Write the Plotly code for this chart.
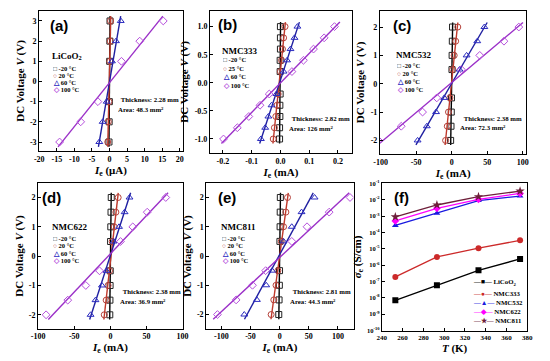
import numpy as np
import plotly.graph_objects as go

# ---------------- data ----------------
temps_lbl = ["-20 °C", "20 °C", "60 °C", "100 °C"]
temps_lbl_b = ["-20 °C", "25 °C", "60 °C", "100 °C"]

# (a) LiCoO2, current in uA
V_a = [-3, -2, -1, 1, 2, 3]
a_m20 = [-0.15, -0.1, -0.05, 0.05, 0.1, 0.15]
a_20 = [-0.5, -0.35, -0.15, 0.1, 0.2, 0.3]
a_60 = [-2.9, -1.95, -0.8, 0.7, 1.85, 3.2]
a_100 = [-14.2, -8.2, -3.3, 3.4, 8.6, 15.3]

# (b) NMC333, current in mA
V_b = [-1.0, -0.8, -0.6, -0.4, -0.2, 0.2, 0.4, 0.6, 0.8, 1.0]
b_m20 = [-0.003, -0.003, -0.002, -0.002, -0.001, -0.001, -0.001, 0.0, 0.0, 0.0]
b_25 = [-0.025, -0.021, -0.016, -0.012, -0.008, 0.000, 0.004, 0.007, 0.011, 0.016]
b_60 = [-0.068, -0.053, -0.042, -0.031, -0.014, 0.011, 0.023, 0.035, 0.049, 0.059]
b_100 = [-0.198, -0.150, -0.110, -0.071, -0.039, 0.040, 0.080, 0.115, 0.152, 0.188]

# (c) NMC532, mA
V_c = [-2, -1.5, -1, -0.5, 0.5, 1, 1.5, 2]
c_m20 = [-1.5, -1.0, -0.6, -0.3, 0.4, 0.6, 0.9, 1.2]
c_20 = [-8.6, -6.2, -4.5, -2.6, 1.5, 3.5, 5.6, 8.6]
c_60 = [-48, -35, -22, -10.5, 11, 21, 36, 46]
c_100 = [-103, -71, -41, -21, 13.6, 39.5, 73.6, 94.5]

# (d) NMC622, mA
V_d = [-2, -1.5, -1, -0.5, 0.5, 1, 1.5, 2]
d_m20 = [-0.8, -0.6, -0.4, -0.2, 0.3, 0.6, 0.9, 1.2]
d_20 = [-8.5, -5.8, -3.2, -1.2, 2.5, 5.4, 7.6, 10.8]
d_60 = [-27.4, -20.6, -11.7, -5.5, 4.5, 12, 19.7, 26.5]
d_100 = [-89, -59, -34, -15, 14, 31, 51, 76.7]

# (e) NMC811, mA
V_e = [-2, -1.5, -1, -0.5, 0.5, 1, 1.5, 2]
e_m20 = [-1.5, -1.0, -0.5, -0.2, 0.5, 0.8, 1.0, 1.2]
e_20 = [-14.6, -10, -6.2, -3, 2.8, 6.7, 10.7, 13.5]
e_60 = [-60.7, -39, -23, -13, 6.7, 20.8, 37.6, 60]
e_100 = [-106.7, -74.7, -46.6, -24, 20.8, 47, 85, 120.8]

# (f) conductivity vs temperature
T_K = [253, 293, 333, 373]
sig_LiCoO2 = [7.1e-9, 5.9e-8, 4.8e-7, 2.4e-6]
sig_NMC333 = [1.9e-7, 3.2e-6, 1.1e-5, 3.3e-5]
sig_NMC532 = [2.7e-4, 1.5e-3, 8.9e-3, 1.7e-2]
sig_NMC622 = [5.1e-4, 3.0e-3, 1.07e-2, 2.45e-2]
sig_NMC811 = [9.1e-4, 4.8e-3, 1.55e-2, 3.4e-2]
f_names = ["LiCoO<sub>2</sub>", "NMC333", "NMC532", "NMC622", "NMC811"]

# tick labels
ticks_a_x = [-20, -15, -10, -5, 0, 5, 10, 15, 20]
ticks_a_y = [-3, -2, -1, 0, 1, 2, 3]
ticks_b_x = [-0.2, -0.1, 0.0, 0.1, 0.2]
ticklbl_b_x = ["-0.2", "-0.1", "0.0", "0.1", "0.2"]
ticks_b_y = [-1.0, -0.5, 0.0, 0.5, 1.0]
ticklbl_b_y = ["-1.0", "-0.5", "0.0", "0.5", "1.0"]
ticks_100_x = [-100, -50, 0, 50, 100]
ticks_2_y = [-2, -1, 0, 1, 2]
ticks_f_x = [240, 260, 280, 300, 320, 340, 360, 380]
ticks_f_y = [1e-10, 1e-9, 1e-8, 1e-7, 1e-6, 1e-5, 1e-4, 1e-3, 1e-2, 1e-1]
ticklbl_f_y = ["10<sup>-10</sup>", "10<sup>-9</sup>", "10<sup>-8</sup>", "10<sup>-7</sup>",
               "10<sup>-6</sup>", "10<sup>-5</sup>", "10<sup>-4</sup>", "10<sup>-3</sup>",
               "10<sup>-2</sup>", "10<sup>-1</sup>"]

# ---------------- styling ----------------
SERIF = "Liberation Serif"
SANS = "Liberation Sans"
LINE_C = ["#000000", "#c0392b", "#1f1fa0", "#9b30c8"]
MARK_C = ["#222222", "#b5413a", "#2b2bc0", "#b54fdc"]
SYMS = ["square-open", "circle-open", "triangle-up-open", "diamond-open"]
GLYPHS = ["□", "○", "△", "◇"]

F_COL = ["#000000", "#cc2a2a", "#1a1ae0", "#ff00ff", "#6e1f3a"]
F_SYM = ["square", "circle", "triangle-up", "diamond", "star"]
F_GLY = ["■", "●", "▲", "◆", "★"]

fig = go.Figure()

panels = [
    dict(lab="(a)", name="LiCoO<sub>2</sub>", V=V_a, I=[a_m20, a_20, a_60, a_100], tl=temps_lbl,
         xt=ticks_a_x, xtl=[str(v) for v in ticks_a_x], yt=ticks_a_y, ytl=[str(v) for v in ticks_a_y],
         xr=[-20, 20.8], yr=[-3.45, 3.5], dx=[0.060, 0.327], dy=[0.5845, 0.9806],
         xtitle="<i>I</i><sub>e</sub> (μA)", th="Thickness: 2.28 mm", ar="Area: 48.3 mm<sup>2</sup>",
         leg=(0.08, 0.68, [0.59, 0.54, 0.49, 0.44]), info=(0.985, 0.37, 0.30), labpos=(0.07, 0.9)),
    dict(lab="(b)", name="NMC333", V=V_b, I=[b_m20, b_25, b_60, b_100], tl=temps_lbl_b,
         xt=ticks_b_x, xtl=ticklbl_b_x, yt=ticks_b_y, ytl=ticklbl_b_y,
         xr=[-0.245, 0.248], yr=[-1.25, 1.28], dx=[0.378, 0.642], dy=[0.579, 0.9806],
         xtitle="<i>I</i><sub>e</sub> (mA)", th="Thickness: 2.82 mm", ar="Area: 126 mm<sup>2</sup>",
         leg=(0.075, 0.717, [0.655, 0.595, 0.535, 0.475]), info=(0.995, 0.24, 0.175), labpos=(0.05, 0.905)),
    dict(lab="(c)", name="NMC532", V=V_c, I=[c_m20, c_20, c_60, c_100], tl=temps_lbl,
         xt=ticks_100_x, xtl=[str(v) for v in ticks_100_x], yt=ticks_2_y, ytl=[str(v) for v in ticks_2_y],
         xr=[-101, 105], yr=[-2.48, 2.57], dx=[0.6945, 0.967], dy=[0.5762, 0.9806],
         xtitle="<i>I</i><sub>e</sub> (mA)", th="Thickness: 2.38 mm", ar="Area: 72.3 mm<sup>2</sup>",
         leg=(0.1, 0.692, [0.62, 0.562, 0.508, 0.452]), info=(0.975, 0.247, 0.182), labpos=(0.08, 0.9)),
    dict(lab="(d)", name="NMC622", V=V_d, I=[d_m20, d_20, d_60, d_100], tl=temps_lbl,
         xt=ticks_100_x, xtl=[str(v) for v in ticks_100_x], yt=ticks_2_y, ytl=[str(v) for v in ticks_2_y],
         xr=[-100, 100], yr=[-2.47, 2.48], dx=[0.058, 0.327], dy=[0.0831, 0.4931],
         xtitle="<i>I</i><sub>e</sub> (mA)", th="Thickness: 2.38 mm", ar="Area: 36.9 mm<sup>2</sup>",
         leg=(0.088, 0.703, [0.622, 0.57, 0.52, 0.47]), info=(0.995, 0.257, 0.19), labpos=(0.02, 0.905)),
    dict(lab="(e)", name="NMC811", V=V_e, I=[e_m20, e_20, e_60, e_100], tl=temps_lbl,
         xt=ticks_100_x, xtl=[str(v) for v in ticks_100_x], yt=ticks_2_y, ytl=[str(v) for v in ticks_2_y],
         xr=[-126, 127], yr=[-2.48, 2.48], dx=[0.371, 0.6455], dy=[0.0831, 0.4931],
         xtitle="<i>I</i><sub>e</sub> (mA)", th="Thickness: 2.81 mm", ar="Area: 44.3 mm<sup>2</sup>",
         leg=(0.093, 0.703, [0.622, 0.57, 0.52, 0.47]), info=(0.99, 0.257, 0.19), labpos=(0.07, 0.91)),
]

tickfont = dict(family=SERIF, size=8, color="black", weight="bold")
titlefont = dict(family=SERIF, size=11, color="black", weight="bold")


def axis_common():
    return dict(showline=True, linecolor="black", linewidth=1, mirror=True,
                ticks="inside", ticklen=3, tickwidth=1, tickcolor="black",
                showgrid=False, zeroline=False, tickfont=tickfont, fixedrange=True)


def px(dom, f):
    return dom[0] + f * (dom[1] - dom[0])


def note(text, x, y, size, w, family=SERIF, xanchor="left"):
    return dict(text=f"<b>{text}</b>", x=x, y=y, xref="paper", yref="paper",
                xanchor=xanchor, yanchor="middle", showarrow=False,
                width=w, height=round(size * 1.35), align=xanchor, valign="middle",
                borderpad=0, font=dict(family=family, size=size, color="black"))


annotations = []
layout_axes = {}
for k, p in enumerate(panels, start=1):
    xa = "x" if k == 1 else f"x{k}"
    ya = "y" if k == 1 else f"y{k}"
    Vv = np.array(p["V"], dtype=float)
    for s, I in enumerate(p["I"]):
        Iv = np.array(I, dtype=float)
        c = np.polyfit(Vv, Iv, 1)
        vl = np.array([Vv.min() * 1.08, Vv.max() * 1.08])
        fig.add_trace(go.Scatter(x=np.polyval(c, vl), y=vl, mode="lines", xaxis=xa, yaxis=ya,
                                 line=dict(color=LINE_C[s], width=1.4), showlegend=False, hoverinfo="skip"))
        fig.add_trace(go.Scatter(x=Iv, y=Vv, mode="markers", xaxis=xa, yaxis=ya, showlegend=False,
                                 marker=dict(symbol=SYMS[s], size=6, color=MARK_C[s],
                                             line=dict(width=1, color=MARK_C[s]))))
    xkey = "xaxis" if k == 1 else f"xaxis{k}"
    ykey = "yaxis" if k == 1 else f"yaxis{k}"
    layout_axes[xkey] = dict(axis_common(), domain=p["dx"], range=p["xr"], anchor=ya,
                             tickmode="array", tickvals=p["xt"], ticktext=p["xtl"],
                             title=dict(text=p["xtitle"], font=titlefont, standoff=2))
    layout_axes[ykey] = dict(axis_common(), domain=p["dy"], range=p["yr"], anchor=xa,
                             tickmode="array", tickvals=p["yt"], ticktext=p["ytl"],
                             title=dict(text="DC Voltage <i>V</i> (V)", font=titlefont, standoff=3))
    dx, dy = p["dx"], p["dy"]
    annotations.append(note(p["lab"], px(dx, p["labpos"][0]), px(dy, p["labpos"][1]), 15, 26, SANS))
    lx, ly, lys = p["leg"]
    annotations.append(note(p["name"], px(dx, lx), px(dy, ly), 9, 40))
    for s in range(4):
        annotations.append(note(f"<span style='color:{MARK_C[s]}'>{GLYPHS[s]}</span> {p['tl'][s]}",
                                px(dx, lx + 0.01), px(dy, lys[s]), 6.5, 30))
    ix, iy1, iy2 = p["info"]
    annotations.append(note(p["th"], px(dx, ix), px(dy, iy1), 6.8, 66, xanchor="right"))
    annotations.append(note(p["ar"], px(dx, ix) - 0.118, px(dy, iy2), 6.8, 50))

# (f)
dx_f, dy_f = [0.698, 0.969], [0.0776, 0.4931]
f_series = [sig_LiCoO2, sig_NMC333, sig_NMC532, sig_NMC622, sig_NMC811]
for s, sig in enumerate(f_series):
    fig.add_trace(go.Scatter(x=T_K, y=sig, mode="lines+markers", xaxis="x6", yaxis="y6", showlegend=False,
                             line=dict(color=F_COL[s], width=1.3),
                             marker=dict(symbol=F_SYM[s], size=6 if s != 4 else 7, color=F_COL[s])))
layout_axes["xaxis6"] = dict(axis_common(), domain=dx_f, range=[240, 380], anchor="y6",
                             tickmode="array", tickvals=ticks_f_x, ticktext=[str(v) for v in ticks_f_x],
                             tickfont=dict(family=SERIF, size=7, color="black", weight="bold"),
                             title=dict(text="<i>T</i> (K)", font=titlefont, standoff=2))
layout_axes["yaxis6"] = dict(axis_common(), domain=dy_f, type="log", range=[-10, -1], anchor="x6",
                             tickmode="array", tickvals=ticks_f_y, ticktext=ticklbl_f_y,
                             tickfont=dict(family=SERIF, size=6.5, color="black", weight="bold"),
                             title=dict(text="<i>σ</i><sub>e</sub> (S/cm)", font=titlefont, standoff=3))
annotations.append(note("(f)", px(dx_f, 0.08), px(dy_f, 0.905), 15, 24, SANS))
f_leg_y = [0.325, 0.25, 0.19, 0.128, 0.066]
for s in range(5):
    annotations.append(note(f"<span style='color:{F_COL[s]}'>—{F_GLY[s]}—</span> {f_names[s]}",
                            px(dx_f, 0.62), px(dy_f, f_leg_y[s]), 6.8, 52))

fig.update_layout(width=550, height=361, margin=dict(l=0, r=0, t=0, b=0),
                  paper_bgcolor="white", plot_bgcolor="white", showlegend=False,
                  annotations=annotations, **layout_axes)
fig.write_html("out.html", config={"displayModeBar": False},
               post_script="document.body.style.margin='0';")
